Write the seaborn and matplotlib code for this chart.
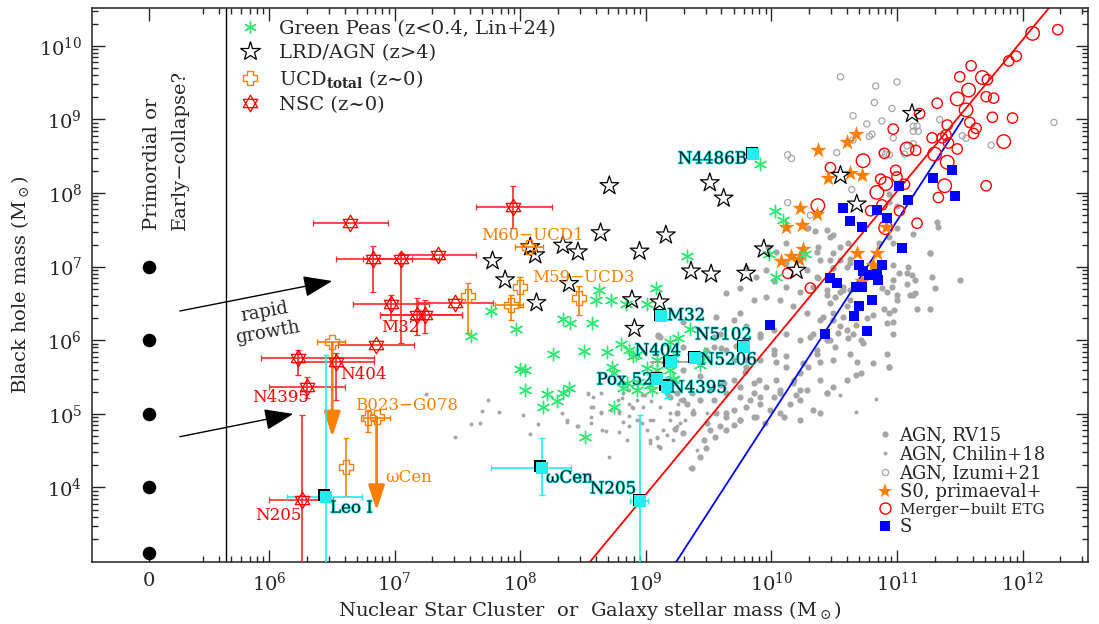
import matplotlib
matplotlib.use("Agg")
import matplotlib.pyplot as plt
import matplotlib.patheffects as pe
from matplotlib.path import Path
from matplotlib.lines import Line2D
from matplotlib.ticker import FixedLocator, NullFormatter
from matplotlib.transforms import offset_copy
import numpy as np
import seaborn as sns

# All masses are log10(M / Msun).

# seeds drawn at the "0" position of the stellar-mass axis
seed_logbh = [7.0, 6.0, 5.0, 4.0, 3.11]
zero_logm = 5.045
divider_logm = 5.66

green_logm = [9.33, 8.63, 9.08, 8.60, 8.72, 8.84, 9.01, 7.77, 7.61, 7.97, 8.34, 8.40, 8.57,
              8.26, 8.51, 8.69, 8.80, 8.87, 8.92, 9.19, 9.26, 8.00, 8.04, 8.73, 8.75, 9.01,
              9.09, 9.19, 8.04, 8.21, 8.29, 8.34, 8.39, 8.18, 8.75, 8.85, 8.94, 9.03, 9.22,
              8.52, 9.91, 10.03, 10.09, 9.98, 10.27, 10.04, 9.35, 9.46, 9.43, 8.90, 9.05,
              8.82, 8.93, 9.09, 9.22, 9.22]
green_logbh = [7.14, 6.69, 6.71, 6.55, 6.55, 6.49, 6.49, 6.40, 6.06, 6.16, 6.29, 6.24, 6.23,
               5.81, 5.86, 5.84, 5.95, 5.87, 5.80, 5.97, 6.03, 5.61, 5.59, 5.64, 5.55, 5.63,
               5.60, 5.60, 5.32, 5.27, 5.18, 5.28, 5.35, 5.09, 5.10, 5.42, 5.44, 5.39, 5.48,
               4.68, 8.40, 7.75, 7.63, 7.17, 7.17, 6.86, 6.16, 5.82, 5.66, 5.78, 5.32,
               5.35, 5.32, 5.73, 5.76, 5.46]

lrd_logm = [7.78, 7.88, 8.13, 8.08, 8.12, 8.34, 8.46, 8.64, 8.71, 8.89, 9.11, 8.91, 9.16,
            8.95, 9.36, 9.52, 9.80, 9.51, 9.62, 9.94, 10.20, 10.55, 10.68, 11.12, 8.39]
lrd_logbh = [7.08, 6.82, 6.51, 7.27, 7.16, 7.29, 7.20, 7.46, 8.10, 6.55, 6.52, 6.16, 7.43,
             7.21, 6.94, 6.90, 6.91, 8.14, 7.93, 7.24, 6.95, 8.24, 7.85, 9.08, 6.77]

# NSC: centre, then x range and y range (None = no bar)
nsc_logm = [6.645, 7.945, 6.83, 7.049, 7.348, 6.971, 7.481, 7.176, 7.242, 6.852, 6.233, 6.533, 6.30, 6.26]
nsc_logbh = [7.59, 7.815, 7.10, 7.10, 7.16, 6.49, 6.51, 6.34, 6.34, 5.93, 5.755, 5.70, 5.37, 3.83]
nsc_xrange = [(6.348, 6.945), (7.646, 8.251), (6.533, 7.136), (6.75, 7.35), (7.05, 7.65),
              (6.671, 7.276), (7.189, 7.786), (6.884, 7.534), (6.884, 7.534), (6.552, 7.157),
              (5.934, 6.836), (6.23, 6.84), (6.002, 6.605), (6.00, 6.51)]
nsc_yrange = [None, (7.522, 8.097), (6.652, 7.285), (5.96, 7.19), None, (6.276, 6.615), None,
              (6.072, 6.571), (6.10, 6.55), None, (5.529, 5.868), (5.188, 5.827),
              (5.212, 5.505), (2.5, 4.985)]

ucd_logm = [8.073, 7.998, 7.924, 8.47, 7.587, 6.504, 6.79, 6.857, 6.61]
ucd_logbh = [7.27, 6.72, 6.48, 6.58, 6.60, 5.97, 4.94, 4.96, 4.28]
ucd_xrange = [(7.959, 8.184), None, (7.799, 8.025), None, None, (6.38, 6.605),
              (6.746, 6.963), None, None]
ucd_yrange = [None, (6.457, 6.864), (6.276, 6.615), (6.34, 6.74), (6.095, 6.78), None,
              (4.76, 5.05), None, (3.88, 4.67)]
# upper limits (arrow from the UCD down to the tip)
ucd_limit_logm = [6.504, 6.857]
ucd_limit_from = [5.97, 4.96]
ucd_limit_to = [4.69, 3.69]

cyan_names = ["N4486B", "M32", "N5102", "N404", "N5206", "Pox 52", "N4395", "ωCen", "N205", "Leo I"]
cyan_logm = [9.856, 9.121, 9.784, 9.20, 9.392, 9.092, 9.166, 8.171, 8.954, 6.451]
cyan_logbh = [8.53, 6.33, 5.91, 5.70, 5.76, 5.47, 5.37, 4.27, 3.81, 3.875]
cyan_xrange = [None, None, None, (9.033, 9.392), None, None, None, (7.765, 8.402),
               (8.874, 9.02), (6.146, 6.738)]
cyan_yrange = [None, None, None, None, None, None, (5.212, 5.505), (3.898, 4.668),
               (2.5, 4.985), (2.5, 5.80)]

s0_logm = [10.37, 10.60, 10.67, 10.45, 10.63, 10.72, 10.23, 10.36, 10.12, 10.24, 10.25, 10.16,
           10.22, 10.08, 10.68, 10.84, 10.81, 10.91, 10.72]
s0_logbh = [8.59, 8.70, 8.80, 8.20, 8.27, 8.25, 7.80, 7.72, 7.54, 7.56, 7.24, 7.15,
            7.10, 7.08, 7.19, 7.19, 7.02, 7.54, 6.80]

spiral_logm = [11.435, 11.29, 11.46, 11.02, 11.09, 10.57, 10.84, 10.63, 10.72, 10.92, 11.04,
               10.70, 10.88, 10.73, 10.78, 10.84, 10.85, 10.47, 10.52, 10.67, 10.72, 10.80,
               10.70, 10.66, 10.76, 10.43, 9.99]
spiral_logbh = [8.31, 8.21, 7.965, 8.09, 7.91, 7.80, 7.77, 7.625, 7.54, 7.66, 7.26,
                7.02, 7.02, 6.94, 6.89, 6.90, 6.82, 6.85, 6.78, 6.73, 6.72, 6.55,
                6.47, 6.33, 6.13, 6.09, 6.21]

etg_logm = [12.08, 12.28, 11.89, 11.95, 11.59, 11.50, 11.68, 11.72, 11.57, 11.48, 11.71, 11.77,
            11.32, 11.18, 11.55, 11.76, 11.92, 11.40, 11.58, 11.63, 11.61, 10.97, 11.28, 11.36,
            11.39, 11.41, 11.48, 11.85, 11.08, 11.15, 11.30, 10.90, 10.73, 11.40, 10.47, 10.99,
            11.00, 10.87, 10.91, 11.06, 11.38, 11.71, 10.84, 11.33, 10.88, 10.79, 11.02, 11.16,
            10.91, 10.37, 10.31, 10.13]
etg_logbh = [10.17, 10.22, 9.795, 9.86, 9.73, 9.58, 9.57, 9.54, 9.40, 9.28, 9.31, 9.29,
             9.22, 9.08, 9.13, 9.03, 9.02, 8.925, 8.96, 8.88, 8.81, 8.87, 8.75, 8.75,
             8.79, 8.68, 8.60, 8.70, 8.60, 8.58, 8.53, 8.54, 8.44, 8.42, 8.345, 8.31,
             8.22, 8.19, 8.13, 8.12, 8.10, 8.10, 8.01, 7.94, 7.84, 7.76, 7.76, 7.59,
             7.53, 7.83, 6.71, 6.91]
etg_big = [1, 0, 0, 0, 0, 0, 1, 0, 1, 1, 0, 0, 0, 0, 1, 0, 0, 0, 0, 0, 0, 0, 0, 0,
           0, 0, 0, 1, 1, 0, 1, 0, 1, 1, 0, 0, 0, 0, 1, 0, 1, 0, 1, 0, 0, 0, 0, 0,
           1, 1, 0, 0]

izumi_logm = [10.55, 10.83, 11.00, 10.82, 10.96, 10.65, 10.76, 10.88, 10.80, 10.78, 10.97,
              10.65, 10.52, 10.88, 10.91, 10.94, 10.13, 10.16, 10.64, 10.13, 11.13, 11.16,
              11.13, 11.17, 11.34, 11.52, 11.55, 11.75, 12.25, 11.08, 11.06, 11.13, 10.31]
izumi_logbh = [9.58, 9.455, 9.51, 9.23, 9.15, 9.05, 8.94, 8.98, 8.80, 8.77, 8.75,
               8.72, 8.55, 8.55, 8.53, 8.52, 8.52, 8.47, 8.05, 7.87, 8.91, 8.91,
               8.84, 8.84, 9.00, 8.78, 8.745, 8.65, 8.96, 8.64, 8.53, 8.67, 7.70]

rv15_logm = [10.29, 10.35, 10.47, 10.12, 9.97, 10.04, 10.36, 10.23, 10.39, 10.49, 10.61, 10.12,
             10.28, 10.36, 10.49, 10.60, 9.96, 9.88, 10.02, 10.12, 10.23, 10.33, 10.44, 10.55,
             10.60, 10.49, 10.39, 10.28, 10.17, 10.07, 9.96, 9.86, 9.75, 9.70, 9.80, 9.91,
             10.02, 10.12, 10.23, 10.33, 10.47, 10.55, 10.65, 10.73, 10.63, 10.49, 10.36, 10.25,
             10.12, 10.02, 9.91, 9.80, 9.70, 9.64, 9.59, 9.54, 9.43, 9.51, 9.62, 9.75,
             9.86, 9.96, 10.07, 10.17, 10.28, 10.39, 10.49, 10.60, 10.71, 10.81, 10.92, 10.94,
             10.97, 10.94, 11.00, 9.30, 9.17, 9.11, 9.35, 9.56, 9.64, 9.75, 9.80, 9.30,
             9.88, 9.75, 9.64, 10.07, 10.23, 10.39,
             10.97, 11.02, 11.09, 11.12, 11.08, 11.14, 11.28, 11.30, 11.50, 11.00, 11.10, 11.14,
             10.92, 10.88, 10.97, 10.90, 10.98, 11.16, 11.26, 10.97, 10.92, 10.81, 10.76, 10.67,
             10.60, 10.53, 10.51, 10.44, 10.71, 10.61, 10.68, 10.94, 10.67, 10.44, 10.47, 10.51,
             10.44, 10.57, 10.63, 10.57, 10.49, 10.41, 10.55, 10.49, 10.63, 11.26,
             9.10, 9.30, 9.54, 9.60, 9.72, 9.91, 10.04, 10.12, 9.90, 9.79, 9.70, 9.59,
             10.23, 10.29, 10.39, 10.44, 10.33, 10.23, 10.15, 10.02, 9.91, 9.83, 9.75, 9.64,
             9.54, 9.43, 9.33, 9.25, 9.19, 9.38, 9.49, 9.56, 9.64, 9.70, 9.80, 9.91,
             9.46, 9.55, 9.64, 9.43, 9.37, 9.48, 10.10, 9.86, 9.75, 9.70, 9.59, 9.51,
             9.30, 9.23, 10.20, 10.23, 9.99, 9.95, 10.04, 10.18, 10.07, 9.86, 10.36, 10.45,
             10.31, 10.02, 9.80, 9.43, 9.48, 9.25, 9.37,
             10.94, 11.00, 11.13, 11.32, 11.33, 11.26, 10.97, 11.08, 11.13, 10.96, 10.44, 10.49,
             10.37, 10.55, 10.47, 10.63, 10.37, 10.57, 10.63, 10.94, 11.00, 9.30, 9.10, 10.94,
             10.86]
rv15_logbh = [7.52, 7.48, 7.41, 7.32, 7.27, 7.20, 7.20, 7.14, 7.09, 7.18, 7.32, 7.05,
              6.96, 6.86, 6.98, 7.00, 6.96, 6.86, 6.80, 6.73, 6.66, 6.73, 6.61, 6.66,
              6.46, 6.37, 6.27, 6.37, 6.46, 6.55, 6.59, 6.55, 6.37, 6.27, 6.19, 6.09,
              6.14, 6.09, 6.00, 6.09, 6.00, 6.19, 6.09, 5.96, 5.82, 5.73, 5.82, 5.69,
              5.78, 5.82, 5.73, 5.64, 5.73, 5.87, 6.09, 5.91, 5.51, 5.33, 5.42, 5.37,
              5.28, 5.37, 5.28, 5.42, 5.33, 5.46, 5.37, 5.46, 5.55, 5.69, 5.82, 5.64,
              6.09, 6.37, 6.55, 5.19, 5.28, 6.05, 5.82, 6.32, 6.64, 6.71, 6.98, 5.60,
              4.96, 4.92, 5.01, 5.01, 4.92, 5.01,
              7.02, 6.91, 7.00, 6.89, 6.77, 6.82, 6.86, 6.71, 6.82, 6.62, 6.62, 6.64,
              6.66, 6.71, 6.82, 6.43, 6.41, 6.43, 6.43, 6.25, 6.23, 6.34, 6.30, 6.21,
              6.14, 6.10, 5.91, 6.00, 6.00, 6.03, 5.71, 5.64, 5.53, 5.28, 6.50, 6.59,
              6.68, 6.68, 6.55, 6.32, 6.28, 6.32, 7.09, 6.98, 7.05, 7.18,
              6.06, 5.91, 6.05, 5.89, 5.92, 6.05, 5.71, 5.64, 5.46, 5.57, 5.46, 5.39,
              5.55, 5.64, 5.71, 5.28, 5.05, 5.19, 5.14, 5.23, 5.23, 5.19, 5.23, 5.28,
              5.19, 5.19, 5.14, 5.01, 5.23, 5.01, 4.87, 5.01, 4.96, 5.05, 5.10, 5.14,
              4.65, 4.69, 4.78, 4.42, 4.26, 4.53, 4.96, 4.96, 4.92, 4.85, 4.83, 4.78,
              4.74, 4.80, 5.26, 5.32, 5.05, 4.87, 5.46, 5.46, 5.32, 5.42, 5.87, 6.00,
              6.05, 5.87, 5.73, 5.71, 5.87, 5.28, 5.28,
              7.88, 7.82, 7.45, 7.61, 7.54, 7.18, 7.32, 6.91, 6.62, 6.73, 7.50, 7.43,
              7.27, 7.27, 7.09, 7.11, 6.84, 6.73, 6.68, 7.99, 7.52, 6.25, 6.07, 7.41,
              7.32]

chilin_logm = [7.48, 7.61, 7.68, 7.83, 7.70, 7.25, 8.02, 8.08, 8.14, 8.37, 8.54, 8.58,
               8.68, 8.71, 8.79, 8.82, 8.87, 8.97, 9.03, 9.10, 9.17, 9.25, 9.35, 9.41,
               9.46, 9.27, 9.38, 9.49, 7.74, 8.33, 8.45, 8.56, 8.58, 8.64, 8.78, 8.82,
               8.87, 8.90, 8.93, 8.98, 9.03, 9.09, 9.11, 9.14, 9.19, 9.26, 9.31, 8.87,
               8.99, 8.93, 9.11, 9.06, 9.19, 9.27, 9.09, 9.01, 8.95, 8.87, 8.79, 8.72,
               8.64, 8.56, 8.64, 8.54, 8.46, 8.56, 8.37, 8.81, 8.89, 8.97, 9.04, 9.03,
               8.85, 8.79, 8.65, 9.22, 9.11, 10.55, 10.83, 10.67]
chilin_logbh = [4.68, 4.86, 4.87, 5.03, 5.04, 5.27, 4.99, 4.73, 4.86, 4.89, 5.27, 5.10,
                4.77, 4.42, 5.04, 4.89, 4.97, 4.87, 4.60, 4.56, 4.71, 4.83, 4.26, 4.51,
                4.65, 5.19, 5.05, 5.01, 5.19, 5.01, 4.83, 5.09, 5.23, 5.01, 5.19, 5.28,
                5.14, 5.08, 5.19, 5.10, 4.92, 4.67, 4.55, 4.78, 5.01, 5.14, 4.92, 5.33,
                5.26, 4.92, 5.10, 4.92, 4.92, 4.87, 4.69, 4.78, 4.92, 4.83, 5.01, 5.05,
                5.03, 4.96, 5.28, 5.28, 4.83, 4.87, 4.92, 5.21, 5.10, 5.26, 5.17, 4.65,
                4.65, 4.76, 4.78, 4.65, 4.53, 5.26, 5.20, 5.02]

# scaling relations (end points)
red_rel_logm, red_rel_logbh = [8.50, 12.30], [2.875, 10.70]
blue_rel_logm, blue_rel_logbh = [9.20, 11.528], [2.879, 9.015]

# "rapid growth" arrows: (start logm, start logbh, tip logm, tip logbh)
growth_arrows = [(5.291, 6.398, 6.504, 6.806), (5.291, 4.69, 6.194, 5.0)]

orange_labels = [("M60−UCD1", 8.102, 7.43, "center"), ("M59−UCD3", 8.50, 6.85, "center"),
                 ("B023−G078", 7.099, 5.12, "center"), ("ωCen", 6.924, 4.129, "left")]
red_labels = [("M32", 7.043, 6.18, "center"), ("N404", 6.565, 5.54, "left"),
              ("N4395", 6.096, 5.216, "center"), ("N205", 6.076, 3.626, "center")]
cyan_label_pos = [(9.806, 8.463, "right"), (9.169, 6.334, "left"), (9.619, 6.072, "center"),
                  (9.097, 5.855, "center"), (9.431, 5.732, "left"), (9.057, 5.46, "right"),
                  (9.193, 5.352, "left"), (8.205, 4.129, "left"), (8.739, 3.98, "center"),
                  (6.486, 3.72, "left")]


def P(v):
    return np.power(10.0, np.asarray(v, dtype=float))


def asym(c, rng):
    if rng is None:
        return None
    return [[P(c) - P(rng[0])], [P(rng[1]) - P(c)]]


david = Path([(0, 1), (0.866, -0.5), (-0.866, -0.5), (0, 1),
              (0, -1), (0.866, 0.5), (-0.866, 0.5), (0, -1)],
             [Path.MOVETO, Path.LINETO, Path.LINETO, Path.CLOSEPOLY,
              Path.MOVETO, Path.LINETO, Path.LINETO, Path.CLOSEPOLY])
w = 0.38
plus_outline = Path([(-w, 1), (w, 1), (w, w), (1, w), (1, -w), (w, -w), (w, -1), (-w, -1),
                     (-w, -w), (-1, -w), (-1, w), (-w, w), (-w, 1)], closed=True)

GREEN = "#2ee872"
ORANGE = "#ff8000"
CYAN = "#22eeee"
GRAY = "#a6a6a6"

sns.set_style("ticks")
plt.rcParams["font.family"] = ["DejaVu Serif"]
plt.rcParams["mathtext.fontset"] = "dejavuserif"

fig = plt.figure(figsize=(10.99, 6.24), dpi=100)
ax = fig.add_axes([0.0837, 0.0994, 0.9063, 0.8878])
ax.set_xscale("log")
ax.set_yscale("log")
ax.set_xlim(P(4.591), P(12.521))
ax.set_ylim(P(2.988), P(10.515))

# scaling relations
sns.lineplot(x=P(red_rel_logm), y=P(red_rel_logbh), color="red", lw=1.3, sort=False,
             estimator=None, ax=ax, zorder=2)
sns.lineplot(x=P(blue_rel_logm), y=P(blue_rel_logbh), color="blue", lw=1.3, sort=False,
             estimator=None, ax=ax, zorder=2)

# AGN samples
sns.scatterplot(x=P(rv15_logm), y=P(rv15_logbh), color=GRAY, s=20, linewidth=0, ax=ax, zorder=1)
sns.scatterplot(x=P(chilin_logm), y=P(chilin_logbh), color=GRAY, s=8, linewidth=0, ax=ax, zorder=1)
sns.scatterplot(x=P(izumi_logm), y=P(izumi_logbh), marker="o", facecolors="none",
                edgecolor=GRAY, s=20, linewidth=0.9, ax=ax, zorder=1)

# galaxies
big = np.array(etg_big, bool)
em, eb = np.array(etg_logm), np.array(etg_logbh)
sns.scatterplot(x=P(em[~big]), y=P(eb[~big]), marker="o", facecolors="none", edgecolor="red",
                s=55, linewidth=1.0, ax=ax, zorder=3)
sns.scatterplot(x=P(em[big]), y=P(eb[big]), marker="o", facecolors="none", edgecolor="red",
                s=95, linewidth=1.0, ax=ax, zorder=3)
sns.scatterplot(x=P(s0_logm), y=P(s0_logbh), marker="*", color=ORANGE, s=150, linewidth=0,
                ax=ax, zorder=3)
sns.scatterplot(x=P(spiral_logm), y=P(spiral_logbh), marker="s", color="blue", s=45,
                linewidth=0, ax=ax, zorder=3)

# high-z and green peas
sns.scatterplot(x=P(green_logm), y=P(green_logbh), marker=(6, 2, 0), color=GREEN, s=80,
                linewidth=1.0, ax=ax, zorder=4)
sns.scatterplot(x=P(lrd_logm), y=P(lrd_logbh), marker="*", facecolors="none", edgecolor="black",
                s=200, linewidth=0.9, ax=ax, zorder=4)

# NSCs and UCDs with error bars
for m, b, xr, yr in zip(nsc_logm, nsc_logbh, nsc_xrange, nsc_yrange):
    ax.errorbar(P(m), P(b), xerr=asym(m, xr), yerr=asym(b, yr), marker=david, ms=12,
                mfc="none", mec="red", mew=0.9, ecolor="#ff2a2a", elinewidth=1.2, capsize=2,
                ls="none", zorder=5)
for m, b, xr, yr in zip(ucd_logm, ucd_logbh, ucd_xrange, ucd_yrange):
    ax.errorbar(P(m), P(b), xerr=asym(m, xr), yerr=asym(b, yr), marker=plus_outline, ms=9.5,
                mfc="none", mec=ORANGE, mew=1.0, ecolor=ORANGE, elinewidth=1.2, capsize=2,
                ls="none", zorder=5)
for m, b0, b1 in zip(ucd_limit_logm, ucd_limit_from, ucd_limit_to):
    ax.annotate("", xy=(P(m), P(b1)), xytext=(P(m), P(b0)), zorder=5,
                arrowprops=dict(arrowstyle="-|>,head_length=0.85,head_width=0.28", color=ORANGE,
                                lw=2, mutation_scale=18, shrinkA=0, shrinkB=0))

# cyan low-mass galaxies
for i, (m, b, xr, yr) in enumerate(zip(cyan_logm, cyan_logbh, cyan_xrange, cyan_yrange)):
    ecol = "#9a9a9a" if cyan_names[i] == "N404" else CYAN
    ax.errorbar(P(m), P(b), xerr=asym(m, xr), yerr=asym(b, yr), ls="none", ecolor=ecol,
                elinewidth=1.2, capsize=0 if ecol != CYAN else 2, zorder=5)
shadow = offset_copy(ax.transData, fig=fig, x=-1.0, y=1.0, units="points")
sns.scatterplot(x=P(cyan_logm), y=P(cyan_logbh), marker="s", color="black", s=70, linewidth=0,
                ax=ax, zorder=6, transform=shadow)
sns.scatterplot(x=P(cyan_logm), y=P(cyan_logbh), marker="s", color=CYAN, s=70, linewidth=0,
                ax=ax, zorder=6)

# seeds and divider
sns.scatterplot(x=P([zero_logm] * len(seed_logbh)), y=P(seed_logbh), color="black", s=95,
                linewidth=0, ax=ax, zorder=6)
ax.axvline(P(divider_logm), color="black", lw=1)

for x0, y0, x1, y1 in growth_arrows:
    ax.annotate("", xy=(P(x1), P(y1)), xytext=(P(x0), P(y0)),
                arrowprops=dict(arrowstyle="-|>,head_length=0.9,head_width=0.33", color="black",
                                lw=1, mutation_scale=20, shrinkA=0, shrinkB=0))
ax.text(P(5.976), P(6.249), "rapid\ngrowth", rotation=10, ha="center", va="center",
        fontsize=13, linespacing=1.2)
ax.text(P(5.068), P(7.50), "Primordial or", rotation=90, rotation_mode="anchor",
        ha="left", va="center", fontsize=14)
ax.text(P(5.291), P(7.50), "Early−collapse?", rotation=90, rotation_mode="anchor",
        ha="left", va="center", fontsize=14)

for t, m, b, ha in orange_labels:
    ax.text(P(m), P(b), t, color=ORANGE, ha=ha, va="center", fontsize=12, zorder=7)
for t, m, b, ha in red_labels:
    ax.text(P(m), P(b), t, color="red", ha=ha, va="center", fontsize=12, zorder=7)
for name, (m, b, ha) in zip(cyan_names, cyan_label_pos):
    ax.text(P(m), P(b), name, color="#002020", ha=ha, va="center", fontsize=12, zorder=7,
            path_effects=[pe.withStroke(linewidth=1.1, foreground=CYAN)])

# axes decoration
maj_x = [zero_logm, 6, 7, 8, 9, 10, 11, 12]
ax.xaxis.set_major_locator(FixedLocator(P(maj_x)))
ax.set_xticklabels(["0"] + [rf"$10^{{{d}}}$" for d in maj_x[1:]])
minor_x = [k * 10.0 ** d for d in range(5, 13) for k in range(2, 10) if 3e5 <= k * 10.0 ** d <= 3.3e12]
ax.xaxis.set_minor_locator(FixedLocator(minor_x))
ax.xaxis.set_minor_formatter(NullFormatter())
maj_y = [4, 5, 6, 7, 8, 9, 10]
ax.yaxis.set_major_locator(FixedLocator(P(maj_y)))
ax.set_yticklabels([rf"$10^{{{d}}}$" for d in maj_y])
minor_y = [k * 10.0 ** d for d in range(3, 11) for k in range(2, 10)]
ax.yaxis.set_minor_locator(FixedLocator(minor_y))
ax.yaxis.set_minor_formatter(NullFormatter())
ax.tick_params(which="both", direction="in", top=True, right=True, width=1, labelsize=14)
ax.tick_params(which="major", length=9, pad=7)
ax.tick_params(which="minor", length=4.5)
for s in ax.spines.values():
    s.set_linewidth(1.1)
    s.set_color("#222222")
ax.set_xlabel(r"Nuclear Star Cluster  or  Galaxy stellar mass (M$_\odot$)", fontsize=14, labelpad=3)
ax.set_ylabel(r"Black hole mass (M$_\odot$)", fontsize=14, labelpad=6)

# legends
top_handles = [
    Line2D([], [], ls="none", marker=(6, 2, 0), color=GREEN, ms=9, mew=1.0,
           label="Green Peas (z<0.4, Lin+24)"),
    Line2D([], [], ls="none", marker="*", mfc="none", mec="black", ms=15, mew=0.9,
           label="LRD/AGN (z>4)"),
    Line2D([], [], ls="none", marker=plus_outline, mfc="none", mec=ORANGE, ms=10, mew=1.0,
           label=r"UCD$_{\mathbf{total}}$ (z~0)"),
    Line2D([], [], ls="none", marker=david, mfc="none", mec="red", ms=12, mew=0.9,
           label="NSC (z~0)"),
]
leg1 = ax.legend(handles=top_handles, loc="upper left", bbox_to_anchor=(0.147, 0.978),
                 frameon=False, fontsize=14, labelspacing=0.3, handlelength=1.2,
                 handletextpad=0.9, borderpad=0, borderaxespad=0)
ax.add_artist(leg1)
bot_handles = [
    Line2D([], [], ls="none", marker="o", color=GRAY, ms=4.5, mew=0, label="AGN, RV15"),
    Line2D([], [], ls="none", marker="o", color=GRAY, ms=2.8, mew=0, label="AGN, Chilin+18"),
    Line2D([], [], ls="none", marker="o", mfc="none", mec=GRAY, ms=4.5, mew=0.9,
           label="AGN, Izumi+21"),
    Line2D([], [], ls="none", marker="*", color=ORANGE, ms=11, mew=0, label="S0, primaeval+"),
    Line2D([], [], ls="none", marker="o", mfc="none", mec="red", ms=8, mew=1.0,
           label="Merger−built ETG"),
    Line2D([], [], ls="none", marker="s", color="blue", ms=6.5, mew=0, label="S"),
]
leg2 = ax.legend(handles=bot_handles, loc="upper left", bbox_to_anchor=(0.789, 0.245),
                 frameon=False, fontsize=13, labelspacing=0.05, handlelength=0.8,
                 handletextpad=0.4, borderpad=0, borderaxespad=0)
leg2.get_texts()[4].set_fontsize(11)

fig.savefig("out.png", dpi=100)
